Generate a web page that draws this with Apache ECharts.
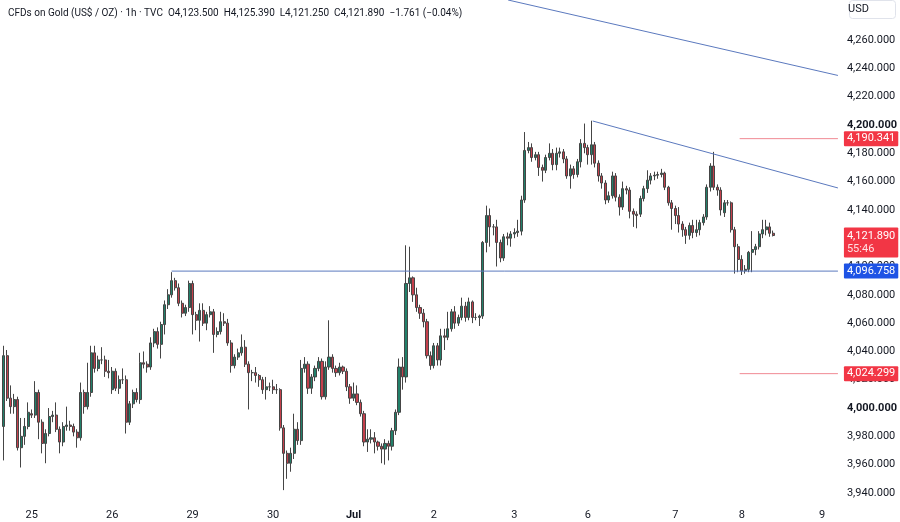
<!DOCTYPE html>
<html>
<head>
<meta charset="utf-8">
<script src="https://cdn.jsdelivr.net/npm/echarts@6/dist/echarts.min.js"></script>
<style>
html,body{margin:0;padding:0;background:#fff;}
#chart{width:900px;height:522px;}
</style>
</head>
<body>
<div id="chart"></div>
<script>
// Hourly candles: [open, close, low, high]
const sessionPre = [
  [3987,4037,3963,4044],[4037,4007,4005,4041],[4007,4001,3996,4016],[4001,4006,3996,4010],
  [4006,3972,3970,4008],[3972,3980,3958,3993],[3980,3987,3974,3993],[3987,3997,3985,4004]
];
const jun25 = [
  [3996,3995,3993,3999],[3995,4011,3993,4019],[4011,3990,3978,4013],[3990,3975,3968,3992],
  [3975,3982,3961,3985],[3982,3994,3980,4000],[3994,3995,3990,3998],[3995,3985,3983,4004],
  [3985,3976,3968,3987],[3976,3987,3973,3990],[3987,3988,3984,4001],[3988,3987,3984,3991],
  [3987,3983,3980,3989],[3983,3979,3972,3985],[3979,4011,3977,4018],[4011,4001,3996,4013],
  [4001,4011,3999,4032],[4011,4039,4008,4044],[4039,4028,4025,4044],[4028,4034,4026,4037],
  [4034,4034,4031,4043],[4034,4026,4022,4037],[4026,4025,4021,4034]
];
const jun26 = [
  [4013,4026,4010,4029],[4026,4014,4012,4028],[4014,4020,4010,4023],[4020,4020,4017,4028],
  [4020,3990,3982,4023],[3990,4003,3988,4005],[4003,4011,4000,4013],[4011,4006,4004,4014],
  [4006,4032,4003,4039],[4032,4031,4028,4040],[4031,4029,4025,4033],[4029,4046,4027,4050],
  [4046,4054,4043,4056],[4054,4045,4042,4057],[4045,4059,4035,4061],[4059,4073,4052,4076],
  [4073,4080,4070,4084],[4080,4090,4078,4096],[4090,4085,4083,4092],[4085,4074,4072,4088],
  [4074,4067,4064,4076],[4067,4071,4065,4073],[4071,4088,4068,4090]
];
const jun29 = [
  [4088,4066,4052,4090],[4066,4062,4055,4068],[4062,4069,4047,4074],[4069,4060,4058,4074],
  [4060,4066,4055,4068],[4066,4068,4064,4072],[4068,4052,4039,4070],[4052,4054,4050,4057],
  [4054,4061,4052,4068],[4061,4060,4058,4067],[4060,4046,4044,4063],[4046,4030,4025,4048],
  [4030,4036,4028,4038],[4036,4039,4034,4042],[4039,4043,4037,4052],[4043,4031,4029,4048],
  [4031,4025,3999,4033],[4025,4025,4019,4027],[4025,4023,4018,4029],[4023,4020,4015,4024],
  [4020,4013,4010,4022],[4013,4015,4006,4022],[4015,4015,4012,4018]
];
const jun30 = [
  [4015,4013,4010,4020],[4013,4013,4010,4017],[4013,3986,3984,4014],[3986,3968,3942,3988],
  [3968,3961,3950,3970],[3961,3968,3955,3972],[3968,3985,3964,3996],[3985,3977,3974,3990],
  [3977,4028,3974,4034],[4028,4031,4025,4036],[4031,4014,4010,4033],[4014,4022,4010,4024],
  [4022,4028,4019,4030],[4028,4033,4026,4036],[4033,4008,4006,4035],[4008,4029,4006,4033],
  [4029,4036,4027,4062],[4036,4028,4025,4038],[4028,4025,4022,4030],[4025,4029,4023,4032],
  [4029,4026,4024,4030],[4026,4015,4012,4028],[4015,4007,4003,4017]
];
const jul1 = [
  [4007,4010,4005,4018],[4010,4004,4002,4016],[4004,3996,3994,4006],[3996,3976,3973,3998],
  [3976,3978,3969,3985],[3978,3979,3975,3985],[3979,3976,3968,3983],[3976,3973,3970,3977],
  [3973,3971,3961,3975],[3971,3975,3960,3978],[3975,3973,3963,3977],[3973,3984,3970,3986],
  [3984,3997,3981,3999],[3997,4029,3995,4035],[4029,4022,4013,4036],[4022,4088,4018,4115],
  [4088,4092,4082,4114],[4092,4080,4075,4093],[4080,4071,4068,4085],[4071,4067,4063,4073],
  [4067,4061,4057,4070],[4061,4037,4035,4063],[4037,4030,4027,4040]
];
const jul2 = [
  [4030,4044,4028,4046],[4044,4034,4030,4046],[4034,4051,4030,4056],[4051,4050,4041,4056],
  [4050,4056,4048,4068],[4056,4068,4054,4070],[4068,4060,4056,4072],[4060,4064,4058,4066],
  [4064,4072,4062,4078],[4072,4064,4061,4075],[4064,4075,4062,4078],[4075,4064,4060,4076],
  [4064,4064,4062,4067],[4064,4065,4058,4066],[4065,4117,4063,4118],[4117,4136,4110,4143],
  [4136,4128,4114,4141],[4128,4128,4122,4130],[4128,4117,4100,4133],[4117,4106,4103,4119],
  [4106,4121,4104,4123],[4121,4120,4115,4124],[4120,4123,4114,4125]
];
const jul3 = [
  [4123,4124,4120,4127],[4124,4125,4121,4133],[4125,4147,4122,4150],[4147,4182,4145,4195],
  [4182,4184,4180,4188],[4184,4177,4174,4187],[4177,4179,4175,4181],[4179,4170,4164,4181],
  [4170,4168,4160,4172],[4168,4177,4166,4179],[4177,4180,4175,4187],[4180,4172,4168,4183],
  [4172,4180,4168,4184],[4180,4181,4177,4184],[4181,4176,4173,4183],[4176,4164,4162,4178],
  [4164,4169,4155,4172],[4169,4165,4162,4171],[4165,4174,4163,4176],[4174,4187,4170,4190],
  [4187,4184,4180,4201]
];
const jul6 = [
  [4184,4179,4172,4186],[4179,4186,4172,4203],[4186,4173,4170,4188],[4173,4164,4160,4175],
  [4164,4159,4155,4166],[4159,4147,4144,4161],[4147,4150,4145,4153],[4150,4164,4148,4167],
  [4164,4149,4146,4166],[4149,4142,4136,4151],[4142,4155,4140,4160],[4155,4154,4151,4157],
  [4154,4139,4134,4156],[4139,4137,4128,4141],[4137,4136,4127,4139],[4137,4148,4135,4150],
  [4148,4155,4146,4157],[4155,4161,4152,4168],[4161,4164,4158,4166],[4164,4164.5,4161,4167],
  [4164.5,4165,4162,4167],[4165,4166,4163,4169],[4166,4156,4154,4167],[4156,4145,4143,4157],
  [4145,4141,4126,4147]
];
const jul7 = [
  [4141,4136,4130,4143],[4136,4130,4124,4142],[4130,4126,4121,4132],[4126,4122,4116,4128],
  [4122,4129,4119,4131],[4129,4124,4120,4133],[4124,4126,4121,4133],[4126,4131,4122,4133],
  [4131,4135,4129,4137],[4135,4156,4133,4158],[4156,4171,4153,4173],[4171,4156,4154,4181],
  [4156,4154,4150,4158],[4154,4140,4136,4156],[4138,4145,4135,4147],[4145,4145,4143,4147],
  [4145,4126,4124,4146],[4126,4114,4095,4128],[4114,4105,4096,4116]
];
const jul8 = [
  [4105,4097,4094,4108],[4097,4098,4095,4101],[4098,4110,4096,4111],[4110,4112,4096,4125],
  [4112,4114,4108,4116],[4114,4123,4112,4125],[4123,4126,4120,4133],[4126,4128,4122,4133],
  [4128,4123.5,4121,4131],[4123.5,4121.89,4121.25,4125.39]
];
const days = [sessionPre, jun25, jun26, jun29, jun30, jul1, jul2, jul3, jul6, jul7, jul8];
const dayLabels = ['', '25', '26', '29', '30', 'Jul', '2', '3', '6', '7', '8'];
const futureLabels = ['9'];          // next session label on empty space
const futureSlots = 18;              // empty hourly slots to the right edge

// Drawn levels and lines: [candle index, price]
const trendLine1 = [[144.2, 4288.3], [238.5, 4235.0]];
const trendLine2 = [[168.4, 4202.8], [238.5, 4155.5]];
const supportLevel = 4096.758, supportStart = 48;
const upperLevel = 4190.341, lowerLevel = 4024.299, levelStart = 210.4;
const lastPrice = 4121.890, countdown = '55:46';
const header = 'CFDs on Gold (US$ / OZ) · 1h · TVC  O4,123.500  H4,125.390  L4,121.250  C4,121.890  −1.761 (−0.04%)';

// build
const candles = [];
const labelAt = {};
days.forEach((d, k) => {
  if (dayLabels[k]) labelAt[candles.length] = dayLabels[k];
  d.forEach(c => candles.push(c));
});
const N = candles.length + futureSlots;
labelAt[candles.length + 23 - jul8.length] = futureLabels[0];
const cats = [];
for (let i = 0; i < N; i++) cats.push('h' + i);
const xEnd = N - 0.5;

const fmt = v => Number(v).toLocaleString('en-US', {minimumFractionDigits: 3, maximumFractionDigits: 3});
const FONT = 'Roboto, "Liberation Sans", sans-serif';

function levelSeries(name, y, x0, lineColor, boxColor, text, rich) {
  return {
    name, type: 'line', xAxisIndex: 1, yAxisIndex: 0, symbol: 'none', silent: true,
    data: [[x0, y], [xEnd, y]],
    lineStyle: {color: lineColor, width: 1},
    z: 5,
    endLabel: {
      show: true, formatter: () => text || fmt(y), color: '#fff', backgroundColor: boxColor,
      fontFamily: FONT, fontSize: 11, lineHeight: 13, padding: [1, 3, 1, 3], distance: 1, borderRadius: 1,
      offset: [5, 0], rich: rich || {}
    }
  };
}

const chart = echarts.init(document.getElementById('chart'), null, {renderer: 'canvas'});
chart.setOption({
  animation: false,
  backgroundColor: '#ffffff',
  title: {
    text: header, left: 3, top: 3,
    textStyle: {fontFamily: FONT, fontSize: 10, fontWeight: 'normal', color: '#131722'}
  },
  grid: {left: 2, right: 55, top: 0, bottom: 17},
  xAxis: [{
    type: 'category', data: cats, boundaryGap: true,
    axisLine: {show: false}, axisTick: {show: false}, splitLine: {show: false},
    axisLabel: {
      interval: (i) => labelAt[i] !== undefined,
      formatter: (v, i) => labelAt[i] === 'Jul' ? '{b|Jul}' : (labelAt[i] || ''),
      margin: 5, fontFamily: FONT, fontSize: 11, color: '#131722',
      rich: {b: {fontWeight: 'bold', fontFamily: FONT, fontSize: 11, color: '#131722'}}
    }
  }, {
    type: 'value', min: -0.5, max: xEnd, show: false
  }],
  yAxis: [{
    type: 'value', position: 'right', min: 3931.5, max: 4288.3,
    minInterval: 20, maxInterval: 20, splitNumber: 18, scale: true,
    axisLine: {show: false}, axisTick: {show: false}, splitLine: {show: false},
    axisLabel: {
      margin: 9, fontFamily: FONT, fontSize: 11, color: '#131722',
      formatter: v => {
        if (Math.abs(v / 20 - Math.round(v / 20)) > 1e-6) return '';
        if (v < 3940 || v > 4260) return '';
        return (Math.round(v) % 200 === 0) ? '{b|' + fmt(v) + '}' : fmt(v);
      },
      rich: {b: {fontWeight: 'bold', fontFamily: FONT, fontSize: 11, color: '#131722'}}
    }
  }],
  graphic: [{
    type: 'rect', right: 4, top: 0, shape: {width: 46, height: 18, r: 3},
    style: {fill: '#fff', stroke: '#e0e3eb', lineWidth: 1}
  }, {
    type: 'text', right: 31, top: 4,
    style: {text: 'USD', fill: '#131722', font: '11px Roboto, sans-serif'}
  }],
  series: [
    {
      name: 'Gold', type: 'candlestick', xAxisIndex: 0, yAxisIndex: 0,
      data: candles, barWidth: '74%',
      itemStyle: {color: '#22806a', color0: '#c4404c', borderColor: '#454545', borderColor0: '#454545', borderWidth: 1},
      z: 3
    },
    {
      name: 'trend1', type: 'line', xAxisIndex: 1, yAxisIndex: 0, symbol: 'none', silent: true,
      data: trendLine1, lineStyle: {color: '#5b79be', width: 1}, z: 4
    },
    {
      name: 'trend2', type: 'line', xAxisIndex: 1, yAxisIndex: 0, symbol: 'none', silent: true,
      data: trendLine2, lineStyle: {color: '#5b79be', width: 1}, z: 4
    },
    levelSeries('support', supportLevel, supportStart, '#5b79be', '#1e53e5'),
    levelSeries('upper', upperLevel, levelStart, '#f08a93', '#f23645'),
    levelSeries('lower', lowerLevel, levelStart, '#f08a93', '#f23645'),
    (function () {
      const s = levelSeries('last', lastPrice, xEnd - 1, 'rgba(0,0,0,0)', '#f23645',
        fmt(lastPrice) + '\n{t|' + countdown + '}',
        {t: {color: '#ffdfe2', fontFamily: FONT, fontSize: 11, lineHeight: 13}});
      s.endLabel.offset = [5, 7];
      s.endLabel.padding = [2, 3, 2, 3];
      return s;
    })()
  ]
});
</script>
</body>
</html>
